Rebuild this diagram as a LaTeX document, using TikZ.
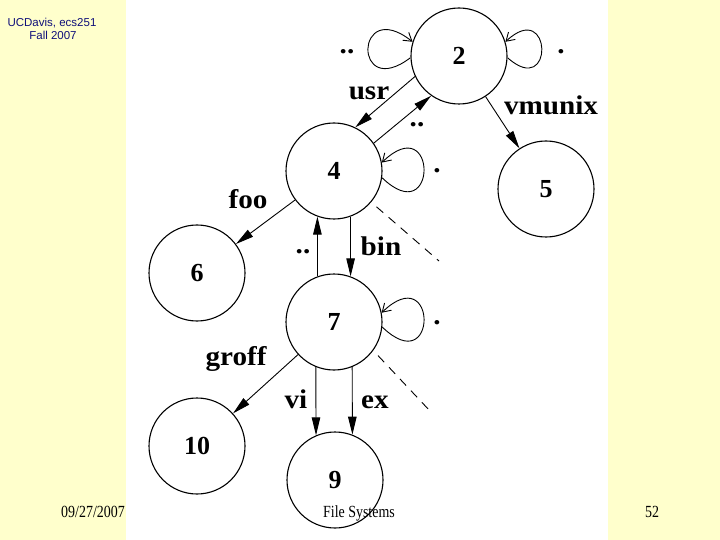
\documentclass[tikz,border=0pt]{standalone}
\usepackage{fontspec}
\setmainfont{Liberation Serif}
\newfontfamily\hdrfont{Liberation Sans}
\newfontfamily\footfont[FakeStretch=0.82]{Liberation Serif}
\newfontfamily\lblfont[FakeStretch=1.08]{Liberation Serif}
\usetikzlibrary{arrows.meta}
\definecolor{bgyellow}{HTML}{FFFFCC}
\definecolor{hdrblue}{HTML}{10107A}
\tikzset{
  inode/.style={circle, draw, line width=1.1pt, minimum size=96pt, inner sep=0pt,
    font=\fontsize{26}{26}\selectfont\bfseries},
  edgearrow/.style={line width=0.9pt, -{Triangle[length=18pt,width=8.5pt]}},
  loopedge/.style={line width=0.9pt, -{Straight Barb[length=8pt,width=10pt]}},
  lbl/.style={anchor=base, inner sep=0pt, font=\lblfont\fontsize{27}{27}\selectfont\bfseries},
  dashedge/.style={line width=0.9pt, dash pattern=on 9pt off 7pt, dash phase=9pt},
  foot/.style={anchor=base, inner sep=0pt, font=\footfont\fontsize{17}{17}\selectfont},
  hdr/.style={anchor=base, inner sep=0pt, text=hdrblue, font=\hdrfont\fontsize{11.5}{11.5}\selectfont}
}
\begin{document}
\begin{tikzpicture}[x=1pt,y=-1pt]
\fill[bgyellow] (0,0) rectangle (720,540);
\fill[white] (126,0) rectangle (608,540);
\useasboundingbox (0,0) rectangle (720,540);

% nodes
\node[inode] (n2) at (459,56) {2};
\node[inode] (n4) at (334,171) {4};
\node[inode] (n5) at (546,189) {5};
\node[inode] (n6) at (197,273) {6};
\node[inode] (n7) at (334,322) {7};
\node[inode] (n10) at (197,446) {10};
\node[inode] (n9) at (335,480) {9};

% edges
\draw[edgearrow] (n2.205) -- (n4.64);
\draw[edgearrow] (n4.35) -- (n2.235);
\draw[edgearrow] (n2) -- (n5);
\draw[edgearrow] (n4) -- (n6);
\draw[edgearrow] (n4.-70) -- (n7.70);
\draw[edgearrow] (n7.110) -- (n4.-110);
\draw[edgearrow] (n7) -- (n10);
\draw[edgearrow] (n7.-112) -- (n9.113);
\draw[edgearrow] (n7.-68) -- (n9.69);

% self loops
\draw[loopedge] (n2.182) .. controls +(-58,44) and +(-58,-46) .. (n2.163);
\draw[loopedge] (n2.-2) .. controls +(47,42) and +(47,-44) .. (n2.17);
\draw[loopedge] (n4.-8) .. controls +(56,54) and +(56,-54) .. (n4.10);
\draw[loopedge] (n7.-6) .. controls +(56,54) and +(56,-54) .. (n7.11);

% dashed stubs
\coordinate (d1) at (439,261);
\coordinate (d2) at (430,411);
\draw[dashedge] (n4.-40) -- (d1);
\draw[dashedge] (n7.-36) -- (d2);

% labels
\node[lbl] (lusr) at (369,100) {usr};
\node[lbl] (ldda) at (417,127) {..};
\node[lbl] (lvm) at (551,115) {vmunix};
\node[lbl] (lddb) at (347,54) {..};
\node[lbl] (lda) at (561,54) {.};
\node[lbl] (ldb) at (437,173) {.};
\node[lbl] (lfoo) at (248,208) {foo};
\node[lbl] (lbin) at (381,255) {bin};
\node[lbl] (lddc) at (303,254) {..};
\node[lbl] (ldc) at (437,324) {.};
\node[lbl] (lgroff) at (236,365) {groff};
\node[lbl] (lvi) at (296,408) {vi};
\node[lbl] (lex) at (375,408) {ex};

% header and footer
\node[hdr] (h1) at (52,27) {UCDavis, ecs251};
\node[hdr] (h2) at (53,40) {Fall 2007};
\node[foot] (fdate) at (93,517) {09/27/2007};
\node[foot] (ftitle) at (359,517) {File Systems};
\node[foot] (fpage) at (652,517) {52};
\end{tikzpicture}
\end{document}
